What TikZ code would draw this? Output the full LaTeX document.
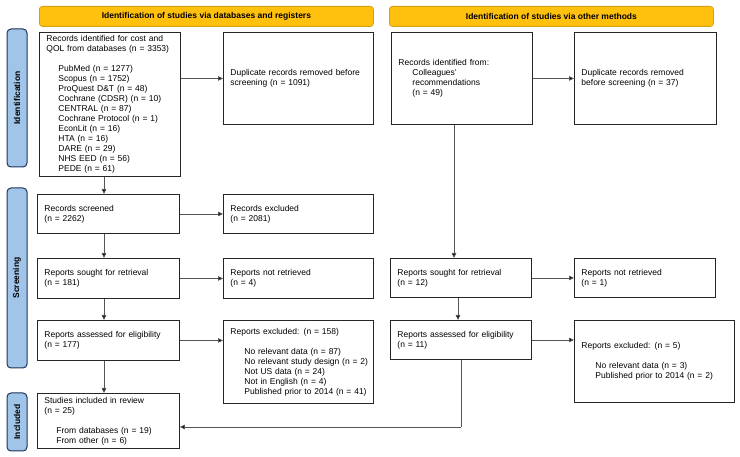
\documentclass[tikz,border=0pt]{standalone}
\usepackage{fontspec}
\setmainfont{Liberation Sans}
\usetikzlibrary{arrows.meta}
\definecolor{hdrfill}{RGB}{255,193,14}
\definecolor{hdrdraw}{RGB}{214,160,20}
\definecolor{sidefill}{RGB}{160,197,232}
\definecolor{sidedraw}{RGB}{30,50,90}
\definecolor{linegray}{RGB}{85,85,85}
\begin{document}
\begin{tikzpicture}[x=1pt,y=-1pt,
  box/.style={draw=black!85, line width=0.9pt, anchor=north west, inner xsep=7pt, inner ysep=2pt,
    align=left, font=\fontsize{8.5}{10}\selectfont},
  hdr/.style={draw=hdrdraw, fill=hdrfill, line width=0.8pt, rounded corners=3pt, anchor=north west,
    inner sep=0pt, font=\fontsize{8.5}{10}\selectfont\bfseries},
  side/.style={draw=sidedraw, fill=sidefill, line width=1pt, rounded corners=4pt, rotate=90,
    inner sep=0pt, minimum height=20pt, font=\fontsize{8.5}{10}\selectfont\bfseries},
  arr/.style={draw=linegray, line width=0.8pt, -{Triangle[length=5pt,width=4.5pt,fill=black]}},
  ln/.style={draw=linegray, line width=0.8pt}]
\useasboundingbox (0,0) rectangle (740,457);

% headers
\node[hdr, minimum width=334pt, minimum height=20pt] (h1) at (39,6) {Identification of studies via databases and registers};
\node[hdr, minimum width=324pt, minimum height=20pt] (h2) at (389,6) {Identification of studies via other methods};

% sidebars
\node[side, minimum width=138pt] (s1) at (17,98) {Identification};
\node[side, minimum width=180pt] (s2) at (17,278) {Screening};
\node[side, minimum width=58pt] (s3) at (17,422) {Included};

% left column
\node[box, text width=127pt, minimum width=141pt, minimum height=144pt] (a1) at (39,32)
  {Records identified for cost and\\QOL from databases (n = 3353)\\[10pt]
   \hspace*{12pt}PubMed (n = 1277)\\
   \hspace*{12pt}Scopus (n = 1752)\\
   \hspace*{12pt}ProQuest D\&T (n = 48)\\
   \hspace*{12pt}Cochrane (CDSR) (n = 10)\\
   \hspace*{12pt}CENTRAL (n = 87)\\
   \hspace*{12pt}Cochrane Protocol (n = 1)\\
   \hspace*{12pt}EconLit (n = 16)\\
   \hspace*{12pt}HTA (n = 16)\\
   \hspace*{12pt}DARE (n = 29)\\
   \hspace*{12pt}NHS EED (n = 56)\\
   \hspace*{12pt}PEDE (n = 61)};
\node[box, text width=136pt, minimum width=150pt, minimum height=92pt] (a2) at (223,32)
  {Duplicate records removed before\\screening (n = 1091)};
\node[box, text width=128pt, minimum width=142pt, minimum height=39pt] (a3) at (37,194)
  {Records screened\\(n = 2262)};
\node[box, text width=136pt, minimum width=150pt, minimum height=39pt] (a4) at (223,194)
  {Records excluded\\(n = 2081)};
\node[box, text width=128pt, minimum width=142pt, minimum height=40pt] (a5) at (37,258)
  {Reports sought for retrieval\\(n = 181)};
\node[box, text width=136pt, minimum width=150pt, minimum height=40pt] (a6) at (223,258)
  {Reports not retrieved\\(n = 4)};
\node[box, text width=128pt, minimum width=142pt, minimum height=40pt] (a7) at (37,320)
  {Reports assessed for eligibility\\(n = 177)};
\node[box, text width=136pt, minimum width=150pt, minimum height=83pt] (a8) at (223,320)
  {Reports excluded: (n = 158)\\[10pt]
   \hspace*{14pt}\mbox{No relevant data (n = 87)}\\
   \hspace*{14pt}\mbox{No relevant study design (n = 2)}\\
   \hspace*{14pt}\mbox{Not US data (n = 24)}\\
   \hspace*{14pt}\mbox{Not in English (n = 4)}\\
   \hspace*{14pt}\mbox{Published prior to 2014 (n = 41)}};
\node[box, text width=128pt, minimum width=142pt, minimum height=55pt] (a9) at (37,393)
  {Studies included in review\\(n = 25)\\[10pt]
   \hspace*{12pt}From databases (n = 19)\\
   \hspace*{12pt}From other (n = 6)};

% right column
\node[box, text width=127pt, minimum width=141pt, minimum height=92pt] (b1) at (391,32)
  {Records identified from:\\
   \hspace*{14pt}Colleagues'\\
   \hspace*{14pt}recommendations\\
   \hspace*{14pt}(n = 49)};
\node[box, text width=128pt, minimum width=142pt, minimum height=92pt] (b2) at (574,32)
  {Duplicate records removed\\before screening (n = 37)};
\node[box, text width=127pt, minimum width=141pt, minimum height=39pt] (b3) at (390,258)
  {Reports sought for retrieval\\(n = 12)};
\node[box, text width=127pt, minimum width=141pt, minimum height=39pt] (b4) at (574,258)
  {Reports not retrieved\\(n = 1)};
\node[box, text width=127pt, minimum width=141pt, minimum height=39pt] (b5) at (390,320)
  {Reports assessed for eligibility\\(n = 11)};
\node[box, text width=146pt, minimum width=160pt, minimum height=82pt] (b6) at (574,320)
  {Reports excluded: (n = 5)\\[10pt]
   \hspace*{14pt}No relevant data (n = 3)\\
   \hspace*{14pt}Published prior to 2014 (n = 2)};

% connectors left
\draw[arr] (a2.west -| a1.east) -- (a2.west);
\draw[arr] (a1.south -| 104,0) -- (a3.north -| 104,0);
\draw[arr] (a3.east) -- (a3.east -| a4.west);
\draw[arr] (a3.south -| 104,0) -- (a5.north -| 104,0);
\draw[arr] (a5.east) -- (a5.east -| a6.west);
\draw[arr] (a5.south -| 104,0) -- (a7.north -| 104,0);
\draw[arr] (a7.east) -- (a7.east -| a8.west);
\draw[arr] (a7.south -| 104,0) -- (a9.north -| 104,0);

% connectors right
\draw[arr] (b1.east) -- (b1.east -| b2.west);
\draw[arr] (b1.south -| 454,0) -- (b3.north -| 454,0);
\draw[arr] (b3.east) -- (b3.east -| b4.west);
\draw[arr] (b3.south -| 458,0) -- (b5.north -| 458,0);
\draw[arr] (b5.east) -- (b5.east -| b6.west);
\coordinate (turn) at (461,427);
\draw[ln] (b5.south -| turn) -- (turn);
\draw[arr] (turn) -- (turn -| a9.east);
\end{tikzpicture}
\end{document}
